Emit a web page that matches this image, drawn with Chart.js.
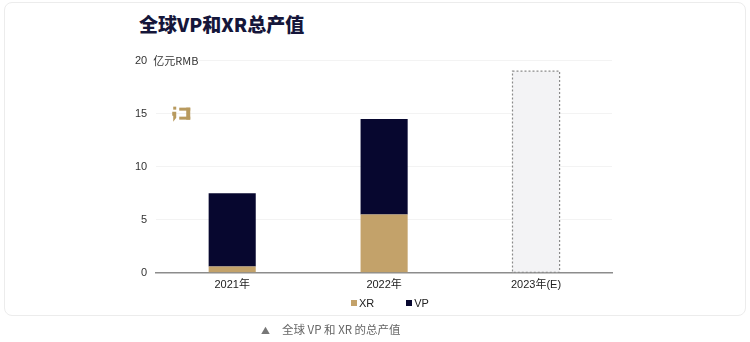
<!DOCTYPE html>
<html>
<head>
<meta charset="utf-8">
<script src="https://cdn.jsdelivr.net/npm/chart.js@4.4.1/dist/chart.umd.min.js"></script>
<style>
  body { margin: 0; background: #fff; font-family: "Noto Sans CJK SC", "Noto Sans", sans-serif; }
  .card { position: absolute; left: 4px; top: 2px; width: 740px; height: 312px;
          border: 1px solid #ececec; border-radius: 8px; background: #fff; }
  .title { position: absolute; left: 139px; top: 10px; font-size: 19px; font-weight: 900; color: #15163a; }
  .box { position: absolute; left: 0; top: 45px; width: 750px; height: 255px; }
  .legend { position: absolute; left: 351px; top: 297px; font: 11px "Liberation Sans", Arial, sans-serif; color: #222; }
  .legend i { display: inline-block; width: 6px; height: 6px; margin-right: 2px; vertical-align: 1px; }
  .legend .vp { margin-left: 32px; }
  .caption { position: absolute; left: 261px; top: 321px; font-size: 11.5px; color: #666; }
  .caption span { margin-right: 12px; color: #777; font-size: 9px; }
</style>
</head>
<body>
<div class="card"></div>
<div class="title">全球VP和XR总产值</div>
<div class="box"><canvas id="myChart"></canvas></div>
<div class="legend"><i style="background:#c3a26a"></i>XR<i class="vp" style="background:#07072f"></i>VP</div>
<div class="caption"><span>▲</span>全球 VP 和 XR 的总产值</div>
<script>
// 年份和数据
const years = ['2021年', '2022年', '2023年(E)']
const xr = [0.6, 5.5, null]
const vp = [6.9, 9.0, null]
const estimate = [null, null, 19.0]
const yTicks = [0, 5, 10, 15, 20]

const gold = '#c3a26a'
const navy = '#07072f'

// 预测值的虚线框 + 单位 + 小logo
const extras = {
  id: 'extras',
  afterDatasetsDraw(chart) {
    const ctx = chart.ctx
    const meta = chart.getDatasetMeta(2)
    meta.data.forEach((bar, i) => {
      if (estimate[i] == null) return
      const w = bar.width
      ctx.save()
      ctx.strokeStyle = '#8a8a8a'
      ctx.lineWidth = 1.2
      ctx.setLineDash([2, 2])
      ctx.strokeRect(bar.x - w / 2, bar.y, w, bar.base - bar.y)
      ctx.restore()
    })
  },
  afterDraw(chart) {
    const ctx = chart.ctx
    const y = chart.scales.y.getPixelForValue(20)
    const left = chart.chartArea.left
    ctx.save()
    ctx.font = '11px "Noto Sans CJK SC", sans-serif'
    ctx.fillStyle = '#fff'
    ctx.fillRect(left - 4, y - 7, 44, 14)
    ctx.fillStyle = '#333'
    ctx.textBaseline = 'middle'
    ctx.fillText('亿元RMB', left - 3, y)

    // logo
    const lx = left + 16, ly = chart.scales.y.getPixelForValue(15) - 7
    ctx.fillStyle = '#b89a5e'
    ctx.fillRect(lx + 1, ly, 3, 3)
    ctx.beginPath()
    ctx.moveTo(lx, ly + 5); ctx.lineTo(lx + 4, ly + 5); ctx.lineTo(lx + 4, ly + 11)
    ctx.lineTo(lx + 1, ly + 15); ctx.lineTo(lx + 1, ly + 9); ctx.lineTo(lx, ly + 9)
    ctx.closePath(); ctx.fill()
    ctx.fillRect(lx + 7, ly + 1, 11, 3)
    ctx.fillRect(lx + 14, ly + 1, 4, 12)
    ctx.fillRect(lx + 7, ly + 10, 11, 3)
    ctx.restore()
  }
}

const ctx = document.getElementById('myChart')
new Chart(ctx, {
  type: 'bar',
  data: {
    labels: years,
    datasets: [
      { label: 'XR', data: xr, backgroundColor: gold, stack: 's' },
      { label: 'VP', data: vp, backgroundColor: navy, stack: 's' },
      { label: 'E', data: estimate, backgroundColor: '#f3f3f5', stack: 's' }
    ]
  },
  options: {
    responsive: true,
    maintainAspectRatio: false,
    animation: false,
    barPercentage: 0.31,
    categoryPercentage: 1,
    layout: { padding: { left: 126, right: 138, top: 15, bottom: 2 } },
    plugins: {
      tooltip: { enabled: false },
      legend: { display: false }
    },
    scales: {
      x: {
        stacked: true,
        grid: { display: false, drawTicks: false },
        border: { color: '#8c8c8c', width: 1.5 },
        ticks: { color: '#222', padding: 6, font: { size: 11, family: '"Liberation Sans", "Noto Sans CJK SC", sans-serif' } }
      },
      y: {
        stacked: true,
        min: 0, max: 20,
        afterBuildTicks: axis => { axis.ticks = yTicks.map(v => ({ value: v })) },
        grid: { color: '#f3f3f3', drawTicks: false },
        border: { display: false },
        ticks: { color: '#333', padding: 9, font: { size: 11, family: '"Liberation Sans", Arial, sans-serif' } }
      }
    }
  },
  plugins: [extras]
})
</script>
</body>
</html>
